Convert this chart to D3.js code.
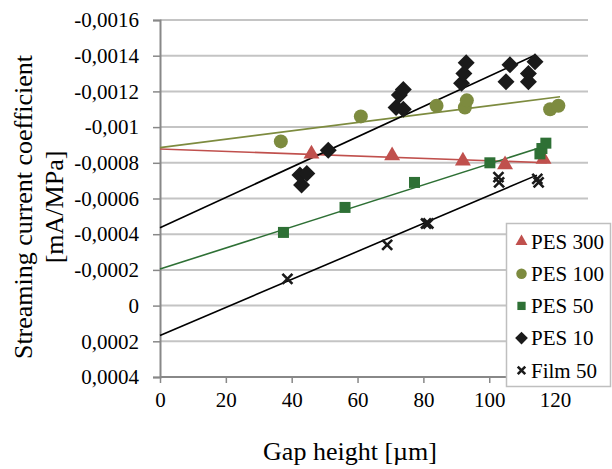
<!DOCTYPE html>
<html><head><meta charset="utf-8">
<script src="https://cdn.jsdelivr.net/npm/d3@7"></script>
<style>body{margin:0;background:#fff}svg{display:block}svg text{font-family:'Liberation Serif','Times New Roman','DejaVu Serif',serif !important;fill:#000}</style>
</head><body><svg id="c" width="612" height="469"></svg>
<script>
const seriesNames = ["PES 300","PES 100","PES 50","PES 10","Film 50"];
const xTicks = [0,20,40,60,80,100,120];
const yTicks = [-0.0016,-0.0014,-0.0012,-0.001,-0.0008,-0.0006,-0.0004,-0.0002,0,0.0002,0.0004];
const yTickLabels = ["-0,0016","-0,0014","-0,0012","-0,001","-0,0008","-0,0006","-0,0004","-0,0002","0","0,0002","0,0004"];

const pes300X = [46, 70.5, 92, 104.8, 116.5];
const pes300Y = [-0.00085, -0.00084, -0.00081, -0.00079, -0.00082];
const pes100X = [36.7, 61, 84, 92.6, 93.2, 118.5, 121];
const pes100Y = [-0.00092, -0.00106, -0.00112, -0.00111, -0.00115, -0.00110, -0.00112];
const pes50X = [37.5, 56.2, 77.3, 100.2, 115.4, 116, 117.2];
const pes50Y = [-0.00041, -0.00055, -0.00069, -0.00080, -0.00085, -0.00088, -0.00091];
const pes10X = [43, 42.5, 44.6, 51.1, 71.7, 73.9, 72.7, 73.9, 91.6, 92.3, 93, 105.1, 106.3, 111.9, 111.9, 113.9];
const pes10Y = [-0.000676, -0.000731, -0.00074, -0.00087, -0.00111, -0.00110, -0.00118, -0.00121, -0.001245, -0.0013, -0.00136, -0.001254, -0.00135, -0.0013, -0.001254, -0.001366];
const film50X = [38.7, 69, 80.8, 81.5, 102.8, 103, 114.6, 115];
const film50Y = [-0.00015, -0.00034, -0.00046, -0.00046, -0.00072, -0.00069, -0.00071, -0.00069];

// trendlines: value at x=0 and at the end point
const trendStartY = [-0.000877, -0.000885, -0.000205, -0.000436, 0.000167];
const trendEndX = [117.5, 121.5, 117, 114, 114.5];
const trendEndY = [-0.0008, -0.00117, -0.000894, -0.001404, -0.000731];

const colors = ["#c0504d", "#7d8b3f", "#2e7035", "#1a1a1a", "#1a1a1a"];
const lineColors = ["#c0504d", "#7d8b3f", "#2e7035", "#000", "#000"];
const symbols = ["triangle","circle","square","diamond","cross"];

const xs = [pes300X, pes100X, pes50X, pes10X, film50X];
const ys = [pes300Y, pes100Y, pes50Y, pes10Y, film50Y];

const FONT = "'Liberation Serif','Times New Roman','DejaVu Serif',serif";
const svg = d3.select("#c");
const x = d3.scaleLinear().domain([0,130]).range([160,588]);
const y = d3.scaleLinear().domain([-0.0016,0.0004]).range([20,377]);

// gridlines
svg.append("g").selectAll("line").data(yTicks.slice(0,-1)).join("line")
  .attr("x1",160).attr("x2",588).attr("y1",d=>y(d)).attr("y2",d=>y(d))
  .attr("stroke","#c4c4c4").attr("stroke-width",2);

// axes
const yAxis = d3.axisLeft(y).tickValues(yTicks).tickSize(7).tickPadding(14)
  .tickFormat((d,i)=>yTickLabels[i]);
const gy = svg.append("g").attr("transform","translate(160,0)").call(yAxis).attr("font-family",FONT);
gy.select(".domain").attr("stroke","#888").attr("stroke-width",2);
gy.selectAll(".tick line").attr("stroke","#888").attr("stroke-width",1.5);
gy.selectAll("text").attr("font-size",21).style("font-family",FONT).attr("fill","#000");

const xAxis = d3.axisBottom(x).tickValues(xTicks).tickSize(6).tickPadding(9);
const gx = svg.append("g").attr("transform","translate(0,377)").call(xAxis).attr("font-family",FONT);
gx.select(".domain").attr("d","M160,0H588").attr("stroke","#888").attr("stroke-width",2);
gx.selectAll(".tick line").attr("stroke","#888").attr("stroke-width",1.5);
gx.selectAll("text").attr("font-size",21).style("font-family",FONT).attr("fill","#000");

// trendlines
seriesNames.forEach((n,i)=>{
  svg.append("line")
    .attr("x1",x(0)).attr("y1",y(trendStartY[i]))
    .attr("x2",x(trendEndX[i])).attr("y2",y(trendEndY[i]))
    .attr("stroke",lineColors[i]).attr("stroke-width",1.6);
});

function marker(g, sym, color, s){
  if(sym==="triangle") g.append("path").attr("d",d3.symbol(d3.symbolTriangle,110*s*s)()).attr("fill",color);
  else if(sym==="circle") g.append("circle").attr("r",7*s).attr("fill",color);
  else if(sym==="square") g.append("rect").attr("x",-5.5*s).attr("y",-5.5*s).attr("width",11*s).attr("height",11*s).attr("fill",color);
  else if(sym==="diamond") g.append("path").attr("d",`M0,${-8.5*s}L${8.5*s},0L0,${8.5*s}L${-8.5*s},0Z`).attr("fill",color);
  else g.append("path").attr("d",`M${-5*s},${-5*s}L${5*s},${5*s}M${5*s},${-5*s}L${-5*s},${5*s}`).attr("stroke",color).attr("stroke-width",2.6).attr("fill","none");
}

// points
seriesNames.forEach((n,i)=>{
  const g = svg.append("g");
  xs[i].forEach((xv,j)=>{
    const m = g.append("g").attr("transform",`translate(${x(xv)},${y(ys[i][j])})`);
    marker(m, symbols[i], colors[i], 1);
  });
});

// legend
const lg = svg.append("g");
lg.append("rect").attr("x",506.5).attr("y",223.5).attr("width",104).attr("height",163)
  .attr("fill","#fff").attr("stroke","#bfbfbf").attr("stroke-width",1.5);
seriesNames.forEach((n,i)=>{
  const cy = 241.5 + i*32.2;
  const m = lg.append("g").attr("transform",`translate(521.5,${cy})`);
  marker(m, symbols[i], colors[i], 0.75);
  lg.append("text").attr("x",531).attr("y",cy).attr("dy","0.35em").attr("font-size",21).style("font-family",FONT).text(n);
});

// axis titles
svg.append("text").attr("x",350).attr("y",460).attr("text-anchor","middle").attr("font-size",26).style("font-family",FONT).text("Gap height [µm]");
const yt = svg.append("text").attr("transform","translate(0,207) rotate(-90)").attr("text-anchor","middle").attr("font-size",26).style("font-family",FONT);
yt.append("tspan").attr("x",0).attr("y",32).text("Streaming current coefficient");
yt.append("tspan").attr("x",0).attr("y",63).text("[mA/MPa]");
</script></body></html>
